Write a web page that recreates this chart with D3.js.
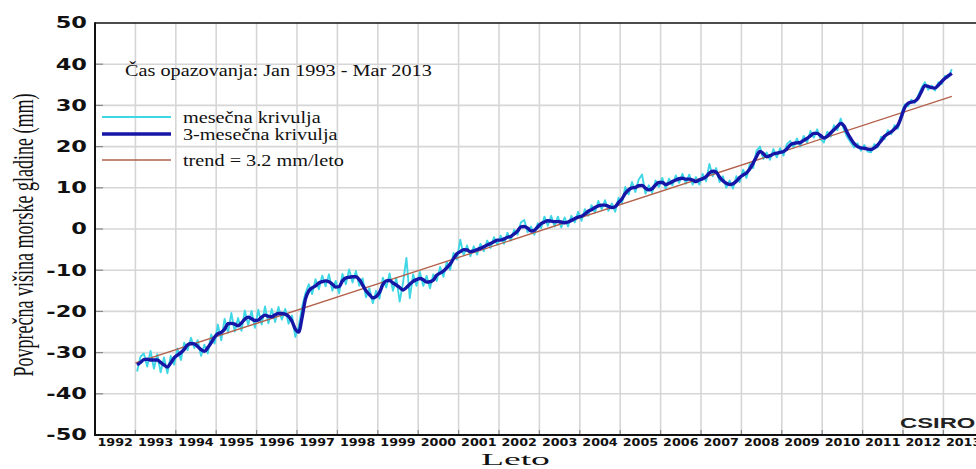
<!DOCTYPE html>
<html>
<head>
<meta charset="utf-8">
<script src="https://cdn.jsdelivr.net/npm/d3@7/dist/d3.min.js"></script>
<style>
  html, body { margin: 0; padding: 0; background: #fff; }
  svg { display: block; }
</style>
</head>
<body>
<svg id="chart" width="976" height="469"></svg>
<script>
// Mean sea level (mm), Jan 1993 – Mar 2013, one value per month
const firstYear = 1993;
const monthlyValues = [
  -34.6, -31.0, -30.2, -33.4, -29.6, -33.9, -30.4, -34.8, -31.2, -35.0, -30.8, -32.9,
  -29.0, -31.8, -27.6, -29.4, -26.4, -28.9, -27.0, -30.8, -28.1, -30.2, -25.6, -27.8,
  -23.2, -27.0, -21.8, -25.2, -20.4, -24.9, -21.6, -24.7, -19.8, -23.3, -19.9, -24.0,
  -19.6, -23.2, -18.8, -22.9, -19.4, -22.6, -18.9, -22.0, -19.4, -23.0, -21.0, -26.2,
  -23.6, -19.0, -15.6, -13.4, -15.8, -12.2, -14.6, -11.3, -13.9, -11.0, -15.0, -12.6,
  -15.6, -10.9, -13.4,  -9.8, -13.0, -10.2, -13.8, -12.0, -16.6, -14.4, -18.0, -15.0,
  -16.9, -11.8, -14.2, -10.8, -15.0, -11.9, -17.6, -13.0,  -7.0, -16.8, -11.0, -13.8,
  -10.4, -13.8, -11.4, -14.4, -11.0, -12.6,  -9.2, -11.6,  -8.0,  -9.9,  -5.8,  -7.4,
   -2.6,  -6.4,  -4.0,  -6.6,  -4.2,  -6.2,  -3.6,  -5.4,  -2.8,  -4.6,  -2.0,  -3.8,
   -1.6,  -3.6,  -0.9,  -2.8,  -0.2,  -1.4,   1.6,   2.2,  -0.8,   0.6,  -1.4,   1.4,
    0.2,   3.0,   0.8,   3.2,   0.6,   3.0,   0.4,   2.8,   0.6,   3.2,   1.6,   4.2,
    2.0,   4.8,   3.2,   5.8,   4.0,   6.8,   4.8,   7.0,   4.4,   6.2,   4.2,   7.6,
    6.2,  10.2,   8.4,  11.4,   9.0,  12.0,  13.2,   8.6,  10.6,   8.8,  11.8,  10.2,
   12.4,   9.8,  12.2,  10.6,  13.0,  11.2,  13.4,  11.0,  13.2,  10.8,  12.6,  10.8,
   13.4,  11.6,  15.8,  12.8,  14.8,  11.4,  12.8,  10.0,  11.8,   9.8,  12.8,  11.4,
   14.4,  12.4,  15.8,  14.8,  19.0,  20.0,  17.0,  18.6,  16.8,  19.4,  17.4,  19.6,
   17.8,  20.6,  21.4,  19.8,  22.0,  20.0,  22.6,  21.0,  23.8,  22.2,  24.2,  21.8,
   21.0,  23.6,  22.4,  25.2,  24.0,  26.8,  24.0,  22.2,  21.0,  19.8,  20.8,  19.0,
   20.4,  18.8,  18.6,  20.6,  19.8,  22.4,  21.8,  24.0,  23.0,  25.2,  24.4,  28.0,
   30.2,  29.8,  31.4,  30.6,  32.4,  34.2,  35.6,  33.8,  34.8,  33.6,  35.6,  35.2,
   37.2,  36.8,  38.8
];

// 3-month curve (mm), same months
const threeMonthValues = [
  -33.0, -32.4, -31.7, -31.6, -31.8, -31.8, -31.8, -32.4, -33.0, -33.5, -32.5, -31.3,
  -30.6, -30.0, -29.2, -28.1, -27.8, -27.9, -28.5, -29.3, -29.7, -28.8, -27.6, -26.3,
  -25.4, -25.1, -24.3, -23.0, -22.9, -23.1, -23.5, -22.8, -21.9, -21.4, -21.8, -22.2,
  -22.1, -21.4, -20.9, -21.2, -21.3, -20.8, -20.5, -20.5, -20.7, -21.2, -22.4, -24.3,
  -25.0, -21.5, -17.0, -15.0, -14.3, -13.8, -13.1, -12.8, -12.6, -12.8, -13.4, -14.1,
  -14.0, -12.6, -11.9, -11.7, -11.6, -11.6, -12.3, -13.6, -15.0, -15.9, -16.7, -16.4,
  -15.4, -13.5, -12.6, -12.5, -13.1, -13.6, -14.2, -14.8, -14.2, -13.4, -12.7, -12.3,
  -12.0, -12.3, -12.9, -12.8, -12.4, -11.2, -10.7, -10.2,  -9.4,  -8.5,  -7.2,  -6.0,
   -5.5,  -5.0,  -5.1,  -5.5,  -5.3,  -5.0,  -4.7,  -4.3,  -3.9,  -3.5,  -3.1,  -2.7,
   -2.7,  -2.4,  -2.0,  -1.8,  -1.2,  -0.5,   0.5,   0.6,   0.2,  -0.5,  -0.3,   0.5,
    1.3,   1.7,   2.0,   1.9,   1.8,   1.8,   1.7,   1.5,   1.7,   2.1,   2.5,   2.9,
    3.1,   3.6,   4.3,   4.7,   5.2,   5.6,   5.8,   5.8,   5.5,   5.2,   5.4,   6.4,
    7.3,   8.6,   9.5,  10.0,  10.1,  10.5,  10.6,   9.9,   9.5,   9.8,  10.7,  11.3,
   11.3,  10.8,  11.1,  11.5,  11.9,  12.2,  12.3,  12.1,  12.1,  11.9,  11.5,  11.9,
   12.2,  12.7,  13.6,  14.0,  13.8,  12.6,  11.7,  11.1,  10.8,  11.0,  11.6,  12.5,
   13.1,  13.6,  14.6,  16.0,  17.6,  18.8,  18.3,  17.5,  17.8,  18.2,  18.4,  18.6,
   18.8,  19.4,  20.4,  20.8,  20.9,  21.0,  21.5,  22.0,  22.6,  23.2,  23.2,  22.7,
   22.1,  22.5,  23.3,  24.1,  24.9,  25.6,  25.0,  23.3,  21.9,  20.7,  20.0,  19.7,
   19.6,  19.4,  19.3,  19.7,  20.4,  21.4,  22.5,  23.1,  23.6,  24.3,  25.2,  27.2,
   29.5,  30.5,  30.8,  31.0,  31.8,  33.4,  34.8,  34.6,  34.3,  34.2,  34.9,  35.8,
   36.6,  37.2,  37.8
];

// Linear trend: 3.2 mm per year
const trendRate = 3.2;
const trendStart = { year: 1993.0, value: -32.5 };
const trendEndYear = 2013.21;

const xTickLabels = ["1992","1993","1994","1995","1996","1997","1998","1999","2000","2001","2002",
                     "2003","2004","2005","2006","2007","2008","2009","2010","2011","2012","2013"];
const yTicks = [-50, -40, -30, -20, -10, 0, 10, 20, 30, 40, 50];

const legendItems = [
  { label: "mesečna krivulja", key: "monthly" },
  { label: "3-mesečna krivulja", key: "three" },
  { label: "trend = 3.2 mm/leto", key: "trend" }
];

const colors = { monthly: "#3fd6e6", three: "#1616a6", trend: "#b2604a" };
const widths = { monthly: 1.9, three: 3.4, trend: 1.3 };

// ---- layout ----
const svg = d3.select("#chart");
const plotLeft = 95, plotTop = 23, plotBottom = 435;
const yearPx = 40.4;

const x = d3.scaleLinear().domain([1992, 2014]).range([plotLeft, plotLeft + 22 * yearPx]);
const y = d3.scaleLinear().domain([-50, 50]).range([plotBottom, plotTop]);

const monthTime = i => firstYear + (i + 0.5) / 12;

// gridlines
const grid = svg.append("g");
grid.selectAll("line.v").data(d3.range(1993, 2014)).join("line")
  .attr("class", "v")
  .attr("x1", d => x(d)).attr("x2", d => x(d))
  .attr("y1", plotTop).attr("y2", plotBottom)
  .attr("stroke", "#d6d6d6").attr("stroke-width", 1.6);
grid.selectAll("line.h").data(yTicks.slice(1, -1)).join("line")
  .attr("class", "h")
  .attr("x1", plotLeft).attr("x2", 976)
  .attr("y1", d => y(d)).attr("y2", d => y(d))
  .attr("stroke", "#d6d6d6").attr("stroke-width", 1.6);

// small inner tick marks
svg.append("g").selectAll("line").data(yTicks.slice(1, -1)).join("line")
  .attr("x1", plotLeft).attr("x2", plotLeft + 8)
  .attr("y1", d => y(d)).attr("y2", d => y(d))
  .attr("stroke", "#8a8a8a").attr("stroke-width", 1.2);
svg.append("g").selectAll("line").data(d3.range(1993, 2014)).join("line")
  .attr("x1", d => x(d)).attr("x2", d => x(d))
  .attr("y1", plotBottom).attr("y2", plotBottom - 5)
  .attr("stroke", "#8a8a8a").attr("stroke-width", 1.2);

// series
const monthlyLine = d3.line().x((d, i) => x(monthTime(i))).y(d => y(d));
const smoothLine = d3.line().x((d, i) => x(monthTime(i))).y(d => y(d)).curve(d3.curveMonotoneX);

svg.append("path").datum(monthlyValues)
  .attr("d", monthlyLine)
  .attr("fill", "none").attr("stroke", colors.monthly)
  .attr("stroke-width", widths.monthly).attr("stroke-linejoin", "round");

const trendPts = [trendStart.year, trendEndYear].map(t => ({
  t, v: trendStart.value + trendRate * (t - trendStart.year)
}));
svg.append("path").datum(trendPts)
  .attr("d", d3.line().x(d => x(d.t)).y(d => y(d.v)))
  .attr("fill", "none").attr("stroke", colors.trend).attr("stroke-width", widths.trend);

svg.append("path").datum(threeMonthValues)
  .attr("d", smoothLine)
  .attr("fill", "none").attr("stroke", colors.three)
  .attr("stroke-width", widths.three).attr("stroke-linejoin", "round");

// frame
svg.append("line").attr("x1", plotLeft).attr("x2", 976).attr("y1", plotTop).attr("y2", plotTop)
  .attr("stroke", "#111").attr("stroke-width", 1.6);
svg.append("line").attr("x1", plotLeft).attr("x2", plotLeft).attr("y1", plotTop - 0.8).attr("y2", plotBottom + 1)
  .attr("stroke", "#111").attr("stroke-width", 2);
svg.append("line").attr("x1", plotLeft - 1).attr("x2", 976).attr("y1", plotBottom).attr("y2", plotBottom)
  .attr("stroke", "#111").attr("stroke-width", 2);

// y tick labels
svg.append("g").selectAll("text").data(yTicks).join("text")
  .attr("transform", d => `translate(87,${y(d)}) scale(1.5,1)`)
  .attr("dy", "0.36em")
  .attr("text-anchor", "end")
  .attr("font-family", "DejaVu Sans, Verdana, sans-serif")
  .attr("font-weight", "bold").attr("font-size", 15).attr("fill", "#111")
  .text(d => d);

// x tick labels, centred on each year
svg.append("g").selectAll("text").data(xTickLabels).join("text")
  .attr("transform", d => `translate(${x(+d + 0.5)},446) scale(1.3,1)`)
  .attr("text-anchor", "middle")
  .attr("font-family", "DejaVu Sans, Verdana, sans-serif")
  .attr("font-weight", "bold").attr("font-size", 9.8).attr("fill", "#111")
  .text(d => d);

// axis titles
svg.append("text")
  .attr("transform", "translate(481,465) scale(2.15,1)")
  .attr("font-family", "Liberation Serif, Times New Roman, serif")
  .attr("font-size", 17.5).attr("fill", "#111")
  .text("Leto");

svg.append("text")
  .attr("transform", "translate(33,235) scale(1.68,1) rotate(-90)")
  .attr("text-anchor", "middle")
  .attr("font-family", "Liberation Serif, Times New Roman, serif")
  .attr("font-size", 18).attr("fill", "#111")
  .text("Povprečna višina morske gladine (mm)");

// period note
svg.append("text")
  .attr("transform", "translate(125,76) scale(1.22,1)")
  .attr("font-family", "Liberation Serif, Times New Roman, serif")
  .attr("font-size", 16.6).attr("fill", "#111")
  .text("Čas opazovanja: Jan 1993 - Mar 2013");

// legend
const legendY = [117, 134, 160];
const lg = svg.append("g");
legendItems.forEach((item, i) => {
  lg.append("line")
    .attr("x1", 102).attr("x2", 171)
    .attr("y1", legendY[i]).attr("y2", legendY[i])
    .attr("stroke", colors[item.key]).attr("stroke-width", widths[item.key]);
  lg.append("text")
    .attr("transform", `translate(183,${legendY[i] + 5.5}) scale(1.22,1)`)
    .attr("font-family", "Liberation Serif, Times New Roman, serif")
    .attr("font-size", 16.6).attr("fill", "#111")
    .text(item.label);
});

// source mark
svg.append("text")
  .attr("transform", "translate(900,428) scale(1.7,1)")
  .attr("font-family", "Liberation Sans, Arial, sans-serif")
  .attr("font-weight", "bold").attr("font-size", 14).attr("fill", "#222")
  .text("CSIRO");
</script>
</body>
</html>
